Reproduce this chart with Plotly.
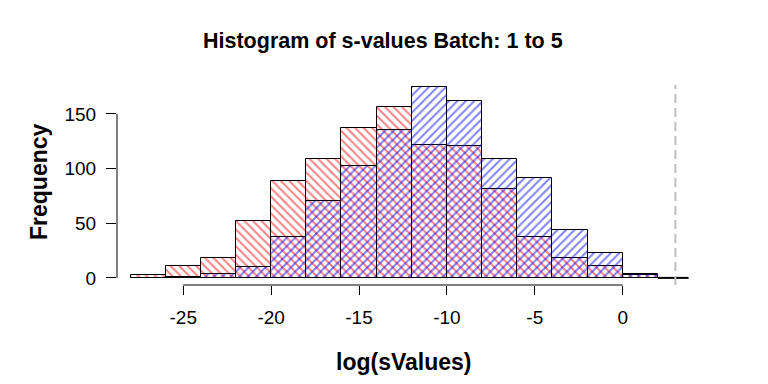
import plotly.graph_objects as go

# ---- data ----
bin_left = [-28, -26, -24, -22, -20, -18, -16, -14, -12, -10, -8, -6, -4, -2, 0]
bin_width = 2
red_counts = [3, 11, 18, 52, 89, 109, 137, 156, 122, 121, 81, 37, 18, 11, 3]
blue_counts = [0, 1, 4, 10, 37, 70, 102, 135, 175, 162, 109, 91, 44, 23, 4]
x_ticks = [-25, -20, -15, -10, -5, 0]
y_ticks = [0, 50, 100, 150]
threshold = 3
baseline_end = 3.75

title = "Histogram of s-values Batch: 1 to 5"
x_title = "log(sValues)"
y_title = "Frequency"

W, H = 768, 384
OFF = 8  # page body margin offset
L, R, T, B = 117 - OFF, 68 + OFF, 85 - OFF, 99 + OFF
XR = [-28.77, 4.40]
YR = [-6.5, 176.5]

centers = [b + bin_width / 2 for b in bin_left]

def px_x(p):
    return (p - OFF - L) / (W - L - R)

def px_y(p):
    return (H - B - (p - OFF)) / (H - T - B)

fig = go.Figure()
fig.add_trace(go.Bar(
    x=centers, y=red_counts, width=bin_width,
    marker=dict(color="rgba(0,0,0,0)",
                line=dict(color="black", width=1),
                pattern=dict(shape="\\", fgcolor="#FF0000", bgcolor="rgba(0,0,0,0)",
                             size=6, solidity=0.32, fillmode="overlay")),
    showlegend=False, hoverinfo="skip"))
fig.add_trace(go.Bar(
    x=centers, y=blue_counts, width=bin_width,
    marker=dict(color="rgba(0,0,0,0)",
                line=dict(color="black", width=1),
                pattern=dict(shape="/", fgcolor="#0000FF", bgcolor="rgba(0,0,0,0)",
                             size=6, solidity=0.32, fillmode="overlay")),
    showlegend=False, hoverinfo="skip"))

font = "Liberation Sans, Arial, Helvetica, sans-serif"

fig.update_layout(
    width=W, height=H,
    margin=dict(l=L, r=R, t=T, b=B, pad=0),
    paper_bgcolor="white", plot_bgcolor="white",
    barmode="overlay", bargap=0,
    font=dict(family=font, color="black"),
    xaxis=dict(range=XR, tickvals=x_ticks, ticktext=[str(v) for v in x_ticks],
               showgrid=False, zeroline=False, showline=False,
               ticks="outside", ticklen=9, tickcolor="black", tickwidth=1,
               tickfont=dict(size=19, family=font), ticklabelstandoff=6),
    yaxis=dict(range=YR, tickvals=y_ticks, ticktext=[str(v) for v in y_ticks],
               showgrid=False, zeroline=False, showline=False,
               ticks="outside", ticklen=10, tickcolor="black", tickwidth=1,
               tickfont=dict(size=19, family=font), ticklabelstandoff=6),
    shapes=[
        dict(type="line", xref="x", yref="paper", x0=x_ticks[0], x1=x_ticks[-1],
             y0=0, y1=0, line=dict(color="black", width=1)),
        dict(type="line", xref="paper", yref="y", x0=0, x1=0,
             y0=y_ticks[0], y1=y_ticks[-1], line=dict(color="black", width=1)),
        dict(type="line", xref="x", yref="y", x0=bin_left[-1] + bin_width, x1=baseline_end,
             y0=0, y1=0, line=dict(color="black", width=2)),
        dict(type="line", xref="x", yref="paper", x0=threshold, x1=threshold,
             y0=0, y1=1, line=dict(color="#BEBEBE", width=2, dash="9px,5px")),
    ],
    annotations=[
        dict(text="<b>" + title + "</b>", xref="paper", yref="paper",
             x=px_x(383), y=px_y(41), xanchor="center", yanchor="middle",
             showarrow=False, font=dict(size=21.5, family=font)),
        dict(text="<b>" + x_title + "</b>", xref="paper", yref="paper",
             x=px_x(403), y=px_y(362), xanchor="center", yanchor="middle",
             showarrow=False, font=dict(size=23, family=font)),
        dict(text="<b>" + y_title + "</b>", xref="paper", yref="paper",
             x=px_x(39), y=px_y(182), xanchor="center", yanchor="middle",
             textangle=-90, showarrow=False, font=dict(size=23, family=font)),
    ],
)

fig.write_html("out.html")
